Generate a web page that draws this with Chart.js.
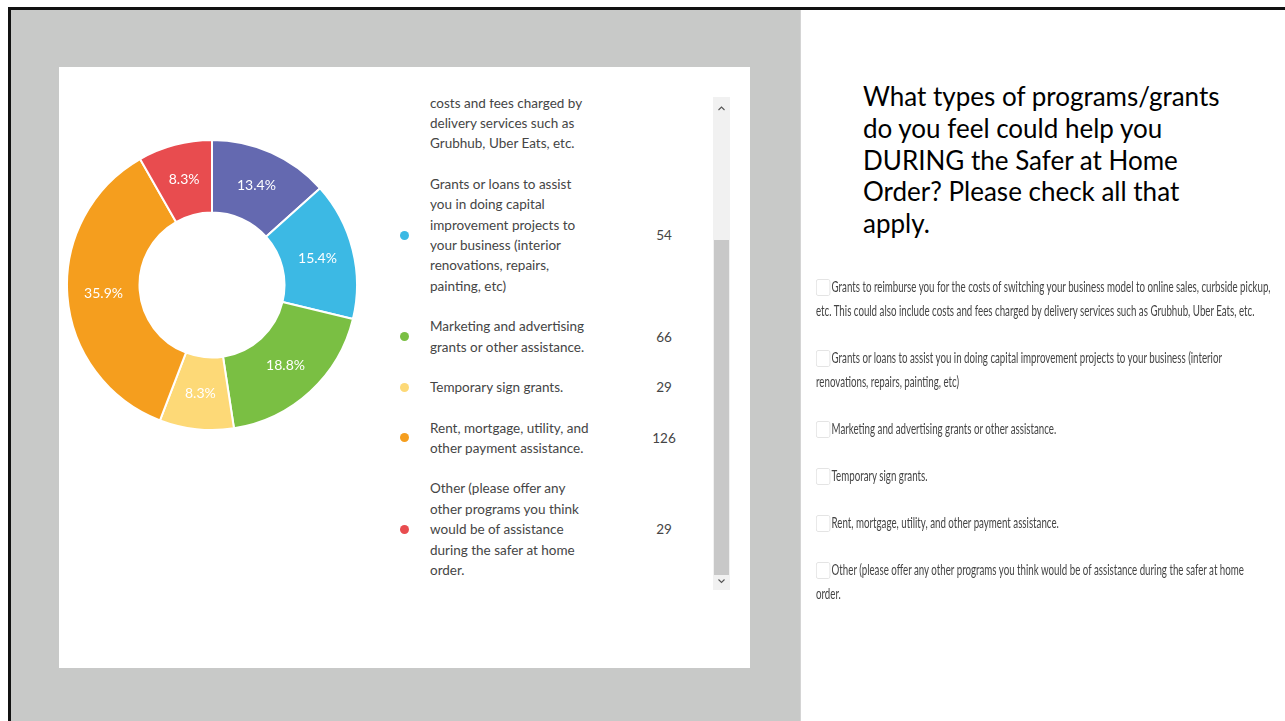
<!DOCTYPE html>
<html>
<head>
<meta charset="utf-8">
<script src="https://cdn.jsdelivr.net/npm/chart.js@4"></script>
<style>
  html, body { margin:0; padding:0; }
  body { width:1285px; height:721px; overflow:hidden; background:#fff; position:relative; font-family: Lato, "Open Sans", sans-serif; }
  .abs { position:absolute; }
  #legendWrap { left:390px; top:99px; width:322px; height:491px; overflow:hidden; }
  #legend { position:absolute; left:0; top:0; width:322px; }
  .item { position:relative; padding:10px 0; display:flex; align-items:center; }
  .dot { position:absolute; left:10px; top:50%; width:9px; height:9px; margin-top:-4.5px; border-radius:50%; }
  .txt { margin-left:40px; font-size:13.5px; line-height:20.4px; color:#454545; }
  .val { position:absolute; left:244px; width:60px; text-align:center; font-size:13.5px; color:#454545; top:50%; margin-top:-10px; line-height:20px; }
  #title { left:863px; top:81px; font-size:26px; line-height:31.8px; color:#000; white-space:nowrap; }
  #qlist { left:816px; top:274px; transform-origin:0 0; white-space:nowrap; }
  .q { font-size:15px; line-height:24px; color:#444; margin-bottom:23px; filter: blur(0.4px); }
  .cb { display:inline-block; width:22px; height:17px; border:1px solid #dedede; border-radius:3px; vertical-align:-4px; margin-right:2px; box-sizing:border-box; }
</style>
</head>
<body>
<div class="abs" style="left:11px;top:10px;width:789px;height:711px;background:#c8c9c8"></div>
<div class="abs" style="left:8px;top:7px;width:1277px;height:3px;background:#111"></div>
<div class="abs" style="left:8px;top:7px;width:3px;height:714px;background:#111"></div>
<div class="abs" style="left:800px;top:10px;width:1px;height:711px;background:#d4d4d4"></div>
<div class="abs" style="left:59px;top:67px;width:691px;height:601px;background:#fff"></div>

<div class="abs" id="chartbox" style="left:66px;top:139px;width:292px;height:292px"><canvas id="c"></canvas></div>

<div class="abs" id="legendWrap"><div id="legend"></div></div>

<!-- scrollbar -->
<div class="abs" style="left:713px;top:97px;width:17px;height:493px;background:#f1f1f1"></div>
<div class="abs" style="left:714px;top:240px;width:15px;height:335px;background:#c8c8c8"></div>
<svg class="abs" style="left:713px;top:97px" width="17" height="20"><polyline points="5.5,13 8.5,10 11.5,13" fill="none" stroke="#555" stroke-width="1.1"/></svg>
<svg class="abs" style="left:713px;top:572px" width="17" height="18"><polyline points="5.5,7.5 8.5,10.5 11.5,7.5" fill="none" stroke="#555" stroke-width="1.1"/></svg>

<div class="abs" id="title">What types of programs/grants<br>do you feel could help you<br>DURING the Safer at Home<br>Order? Please check all that<br>apply.</div>

<div class="abs" id="qlist">
  <div class="q"><span class="cb"></span>Grants to reimburse you for the costs of switching your business model to online sales, curbside pickup,<br>etc. This could also include costs and fees charged by delivery services such as Grubhub, Uber Eats, etc.</div>
  <div class="q"><span class="cb"></span>Grants or loans to assist you in doing capital improvement projects to your business (interior<br>renovations, repairs, painting, etc)</div>
  <div class="q"><span class="cb"></span>Marketing and advertising grants or other assistance.</div>
  <div class="q"><span class="cb"></span>Temporary sign grants.</div>
  <div class="q"><span class="cb"></span>Rent, mortgage, utility, and other payment assistance.</div>
  <div class="q"><span class="cb"></span>Other (please offer any other programs you think would be of assistance during the safer at home<br>order.</div>
</div>

<script>
const categories = [
  "Grants to reimburse you for the costs of switching your business model to online sales, curbside pickup, etc. This could also include costs and fees charged by delivery services such as Grubhub, Uber Eats, etc.",
  "Grants or loans to assist you in doing capital improvement projects to your business (interior renovations, repairs, painting, etc)",
  "Marketing and advertising grants or other assistance.",
  "Temporary sign grants.",
  "Rent, mortgage, utility, and other payment assistance.",
  "Other (please offer any other programs you think would be of assistance during the safer at home order."
];
const responses = [47, 54, 66, 29, 126, 29];
const sliceColors = ["#6469b0", "#3cb9e4", "#7abf43", "#fdd977", "#f59e1e", "#e84c4f"];

const total = responses.reduce((a, b) => a + b, 0);

const pctLabels = {
  id: 'pctLabels',
  afterDatasetsDraw(chart) {
    const ctx = chart.ctx;
    const meta = chart.getDatasetMeta(0);
    ctx.save();
    ctx.fillStyle = '#ffffff';
    ctx.font = '14px Lato, "Open Sans", sans-serif';
    ctx.textAlign = 'center';
    ctx.textBaseline = 'middle';
    meta.data.forEach((arc, i) => {
      const p = arc.tooltipPosition();
      const v = chart.data.datasets[0].data[i];
      ctx.fillText((v / total * 100).toFixed(1) + '%', p.x, p.y);
    });
    ctx.restore();
  }
};

new Chart(document.getElementById('c'), {
  type: 'doughnut',
  data: {
    labels: categories,
    datasets: [{
      data: responses,
      backgroundColor: sliceColors,
      borderColor: '#ffffff',
      borderWidth: 2
    }]
  },
  options: {
    responsive: true,
    maintainAspectRatio: false,
    animation: false,
    cutout: '50%',
    layout: { padding: 0 },
    plugins: { legend: { display: false }, tooltip: { enabled: false } }
  },
  plugins: [pctLabels]
});

// pick a wrap width that reproduces the reference's line breaks
const mctx = document.createElement('canvas').getContext('2d');
mctx.font = '13.5px Lato';
function wrap(text, W) {
  const words = text.split(' ');
  const lines = [];
  let cur = '';
  words.forEach(w => {
    const t = cur ? cur + ' ' + w : w;
    if (cur && mctx.measureText(t).width > W) { lines.push(cur); cur = w; } else cur = t;
  });
  if (cur) lines.push(cur);
  return lines;
}
const m1 = mctx.measureText('Rent, mortgage, utility, and').width;
let wrapW = Math.ceil(m1) + 1;
for (let W = Math.ceil(m1); W < m1 + 12; W += 0.5) {
  const l0 = wrap(categories[0], W);
  const ok = l0.slice(-3).join('|') === 'costs and fees charged by|delivery services such as|Grubhub, Uber Eats, etc.' &&
    wrap(categories[1], W).length === 6 && wrap(categories[2], W).length === 2 &&
    wrap(categories[4], W).length === 2 && wrap(categories[5], W).length === 5;
  if (ok) { wrapW = W; break; }
}

// HTML legend (scrolled list, first entry partly scrolled out of view)
const legend = document.getElementById('legend');
const items = [];
categories.forEach((c, i) => {
  const it = document.createElement('div');
  it.className = 'item';
  it.innerHTML = '<span class="dot" style="background:' + sliceColors[i] + '"></span>' +
    '<div class="txt" style="width:' + (wrapW + 0.5) + 'px">' + c + '</div>' +
    '<div class="val">' + responses[i] + '</div>';
  legend.appendChild(it);
  items.push(it);
});
const off = items[1].offsetTop - 64.6;
legend.style.top = (-off) + 'px';

// Right side question list, horizontally condensed
const ql = document.getElementById('qlist');
const probe = document.createElement('span');
probe.style.cssText = 'font-size:15px;white-space:nowrap;position:absolute;visibility:hidden';
probe.textContent = 'Grants to reimburse you for the costs of switching your business model to online sales, curbside pickup,';
document.body.appendChild(probe);
const sx = 439 / probe.getBoundingClientRect().width;
probe.remove();
ql.style.transform = 'scaleX(' + sx + ')';
</script>
</body>
</html>
